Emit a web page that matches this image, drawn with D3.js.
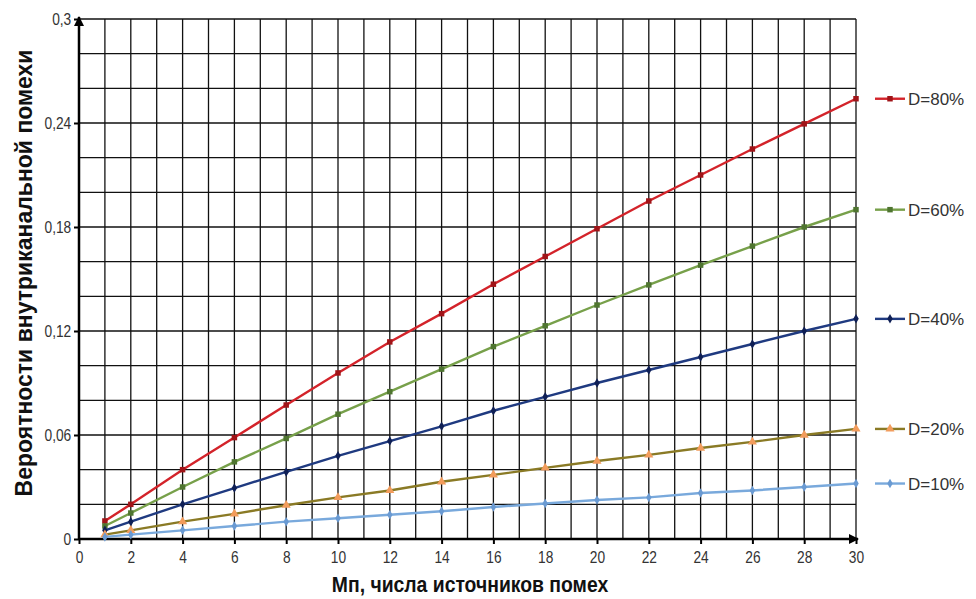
<!DOCTYPE html>
<html><head><meta charset="utf-8">
<script src="https://cdn.jsdelivr.net/npm/d3@7/dist/d3.min.js"></script>
<style>body{margin:0;background:#fff;}svg{display:block;font-family:Arial,"Liberation Sans",sans-serif;}</style>
</head><body><svg id="c" width="976" height="599"></svg>
<script>
const xValues = [1,2,4,6,8,10,12,14,16,18,20,22,24,26,28,30];
const seriesNames = ["D=80%","D=60%","D=40%","D=20%","D=10%"];
const d80 = [0.0104,0.020,0.040,0.0585,0.0773,0.0958,0.1137,0.130,0.147,0.163,0.179,0.195,0.210,0.225,0.2395,0.254];
const d60 = [0.0075,0.015,0.030,0.0445,0.058,0.072,0.085,0.098,0.111,0.123,0.135,0.1466,0.158,0.169,0.180,0.190];
const d40 = [0.005,0.010,0.020,0.0294,0.0387,0.048,0.0565,0.065,0.074,0.082,0.090,0.0975,0.105,0.1125,0.120,0.127];
const d20 = [0.0025,0.005,0.010,0.0145,0.0195,0.024,0.028,0.033,0.037,0.041,0.045,0.0485,0.0525,0.056,0.060,0.0635];
const d10 = [0.0012,0.0025,0.005,0.0075,0.010,0.012,0.014,0.016,0.0185,0.0205,0.0225,0.024,0.0265,0.028,0.030,0.032];
const xTicks = [0,2,4,6,8,10,12,14,16,18,20,22,24,26,28,30];
const yTicks = [0,0.06,0.12,0.18,0.24,0.3];
const yTickLabels = ["0","0,06","0,12","0,18","0,24","0,3"];

const series = [
  {name:seriesNames[0], values:d80, line:"#d3232a", mark:"#a01418", shape:"square"},
  {name:seriesNames[1], values:d60, line:"#77a04a", mark:"#4f7530", shape:"square"},
  {name:seriesNames[2], values:d40, line:"#1f3a80", mark:"#0f1f55", shape:"diamond"},
  {name:seriesNames[3], values:d20, line:"#8a7a25", mark:"#f29c5c", shape:"triangle"},
  {name:seriesNames[4], values:d10, line:"#79a9dc", mark:"#6a9ad2", shape:"diamond"}
];

const svg = d3.select("#c");
const L=79, R=856, T=19, B=539;
const x = d3.scaleLinear().domain([0,30]).range([L,R]);
const y = d3.scaleLinear().domain([0,0.3]).range([B,T]);

const g = svg.append("g");
// grid
g.selectAll(".vg").data(d3.range(1,31)).join("line")
  .attr("x1",d=>x(d)).attr("x2",d=>x(d)).attr("y1",T).attr("y2",B)
  .attr("stroke","#111").attr("stroke-width",1.3);
g.selectAll(".hg").data(d3.range(1,16).map(i=>i*0.02)).join("line")
  .attr("x1",L).attr("x2",R).attr("y1",d=>y(d)).attr("y2",d=>y(d))
  .attr("stroke","#111").attr("stroke-width",1.3);

// axes
const xAxis = g.append("g").attr("transform",`translate(0,${B})`)
  .call(d3.axisBottom(x).tickValues(xTicks).tickSize(5).tickPadding(8).tickFormat(d3.format("d")));
xAxis.select(".domain").remove();
xAxis.selectAll("line").attr("stroke","#000").attr("stroke-width",2);
xAxis.selectAll("text").attr("font-size",16).attr("fill","#333").attr("transform","scale(0.86,1)");
const yAxis = g.append("g").attr("transform",`translate(${L},0)`)
  .call(d3.axisLeft(y).tickValues(yTicks).tickSize(5).tickPadding(4).tickFormat((d,i)=>yTickLabels[i]));
yAxis.select(".domain").remove();
yAxis.selectAll("line").attr("stroke","#000").attr("stroke-width",2);
yAxis.selectAll("text").attr("font-size",16).attr("fill","#333").attr("transform","scale(0.86,1)");

// axis lines with arrows
const defs = svg.append("defs");
defs.append("marker").attr("id","arr").attr("viewBox","0 0 10 10").attr("refX",9).attr("refY",5)
  .attr("markerWidth",4).attr("markerHeight",4).attr("orient","auto")
  .append("path").attr("d","M0,0L10,5L0,10z").attr("fill","#000");
g.append("line").attr("x1",L).attr("x2",R+2).attr("y1",B).attr("y2",B)
  .attr("stroke","#000").attr("stroke-width",2.5).attr("marker-end","url(#arr)");
g.append("line").attr("x1",L).attr("x2",L).attr("y1",B).attr("y2",T-2)
  .attr("stroke","#000").attr("stroke-width",2.5).attr("marker-end","url(#arr)");

function markerPath(shape){
  if(shape==="square") return d3.symbol(d3.symbolSquare,30)();
  if(shape==="diamond") return d3.symbol(d3.symbolDiamond,26)();
  return d3.symbol(d3.symbolTriangle,36)();
}
const line = d3.line().x((d,i)=>x(xValues[i])).y(d=>y(d));
series.forEach(s=>{
  g.append("path").attr("d",line(s.values)).attr("fill","none")
    .attr("stroke",s.line).attr("stroke-width",2.4);
  g.selectAll(null).data(s.values).join("path")
    .attr("d",markerPath(s.shape))
    .attr("transform",(d,i)=>`translate(${x(xValues[i])},${y(d)})`)
    .attr("fill",s.mark);
  // legend / label
  const ly = y(s.values[s.values.length-1]);
  g.append("line").attr("x1",875).attr("x2",905).attr("y1",ly).attr("y2",ly)
    .attr("stroke",s.line).attr("stroke-width",2.4);
  g.append("path").attr("d",markerPath(s.shape)).attr("transform",`translate(890,${ly})`).attr("fill",s.mark);
  g.append("text").attr("x",908).attr("y",ly).attr("dy","0.36em")
    .attr("font-size",17).attr("fill","#333").text(s.name);
});

svg.append("text").attr("transform","translate(470,592) scale(0.88,1)").attr("text-anchor","middle")
  .attr("font-size",22).attr("font-weight","bold").attr("fill","#111")
  .text("Мп, числа источников помех");
svg.append("text").attr("transform","translate(32,273) rotate(-90)").attr("text-anchor","middle")
  .attr("font-size",23).attr("font-weight","bold").attr("fill","#111")
  .text("Вероятности внутриканальной помехи");
</script></body></html>
